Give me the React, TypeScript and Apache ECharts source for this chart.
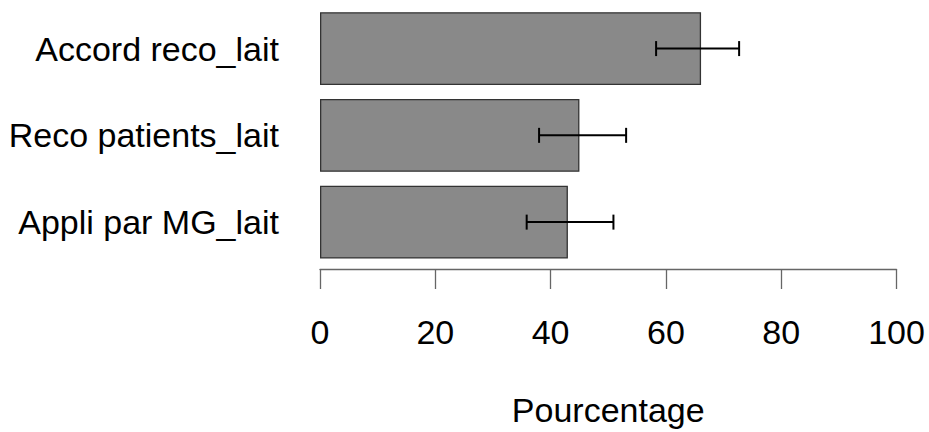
import React, { useEffect, useRef } from "react";
import * as echarts from "echarts";

const categories = ["Accord reco_lait", "Reco patients_lait", "Appli par MG_lait"];
const percentages = [66.1, 45.0, 43.0];
const errorLow = [58.3, 38.0, 35.85];
const errorHigh = [72.7, 53.1, 50.9];
const xTicks = [0, 20, 40, 60, 80, 100];
const xAxisTitle = "Pourcentage";

const FONT = "'Liberation Sans', Arial, sans-serif";

export default function App() {
  const ref = useRef<HTMLDivElement>(null);
  useEffect(() => {
    if (!ref.current) return;
    const chart = echarts.init(ref.current, undefined, { renderer: "svg" });
    const errData = categories.map((_, i) => [i, errorLow[i], errorHigh[i]]);
    chart.setOption({
      animation: false,
      backgroundColor: "#ffffff",
      grid: { left: 320, right: 32.5, top: 5.2, bottom: 165.5, containLabel: false },
      xAxis: {
        type: "value",
        min: xTicks[0],
        max: xTicks[xTicks.length - 1],
        interval: 20,
        offset: 3.5,
        name: xAxisTitle,
        nameLocation: "middle",
        nameGap: 124,
        nameTextStyle: { fontSize: 34, color: "#000", fontFamily: FONT },
        axisLine: { show: true, lineStyle: { color: "#666", width: 1.3 } },
        axisTick: { show: true, inside: false, length: 20, lineStyle: { color: "#666", width: 1.3 } },
        axisLabel: { margin: 46, fontSize: 34, color: "#000", fontFamily: FONT },
        splitLine: { show: false },
      },
      yAxis: {
        type: "category",
        data: categories,
        inverse: true,
        axisLine: { show: false },
        axisTick: { show: false },
        axisLabel: { margin: 41, fontSize: 34, color: "#000", fontFamily: FONT },
      },
      series: [
        {
          type: "bar",
          data: percentages,
          barCategoryGap: "16%",
          itemStyle: { color: "#898989", borderColor: "#333", borderWidth: 1.3 },
        },
        {
          type: "custom",
          data: errData,
          z: 10,
          renderItem: (params: any, api: any) => {
            const c = api.value(0);
            const lo = api.coord([api.value(1), c]);
            const hi = api.coord([api.value(2), c]);
            const h = 7.5;
            const style = { stroke: "#000", lineWidth: 2, fill: "none" };
            return {
              type: "group",
              children: [
                { type: "line", shape: { x1: lo[0], y1: lo[1], x2: hi[0], y2: hi[1] }, style },
                { type: "line", shape: { x1: lo[0], y1: lo[1] - h, x2: lo[0], y2: lo[1] + h }, style },
                { type: "line", shape: { x1: hi[0], y1: hi[1] - h, x2: hi[0], y2: hi[1] + h }, style },
              ],
            };
          },
        },
      ],
    });
    return () => chart.dispose();
  }, []);
  return (
    <div
      ref={ref}
      style={{ position: "fixed", left: 0, top: 0, width: 929, height: 432, background: "#fff" }}
    />
  );
}
